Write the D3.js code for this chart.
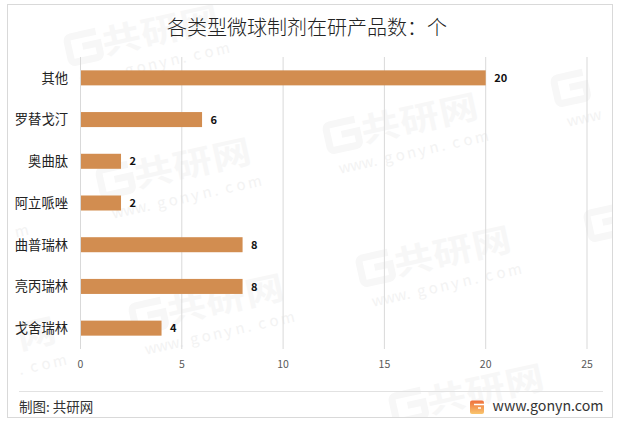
<!DOCTYPE html>
<html><head><meta charset="utf-8">
<script src="https://d3js.org/d3.v7.min.js"></script>
<style>html,body{margin:0;padding:0;background:#fff}svg{display:block}text{font-family:"Noto Sans CJK SC","Liberation Sans",sans-serif}</style>
</head><body><svg id="c" width="620" height="430"></svg>
<script>
const categories=["其他","罗替戈汀","奥曲肽","阿立哌唑","曲普瑞林","亮丙瑞林","戈舍瑞林"];
const values=[20,6,2,2,8,8,4];
const xTicks=[0,5,10,15,20,25];
const titleText="各类型微球制剂在研产品数：个";
const sourceText="制图: 共研网";
const siteText="www.gonyn.com";
const watermarkHead=["共","研","网"];
const watermarkUrl=[..."www.gonyn.com"];
const watermarkAnchors=[[68,64],[100,197],[327,152],[360,285],[555,105],[588,240],[393,423],[133,333],[-95,376],[-133,246]];

const svg=d3.select("#c");
const defs=svg.append("defs");
svg.append("rect").attr("x",7.5).attr("y",4.5).attr("width",605).attr("height",413).attr("fill","#fff").attr("stroke","#d9d9d9");
defs.append("clipPath").attr("id","fr").append("rect").attr("x",8).attr("y",5).attr("width",604).attr("height",412);
const wm=svg.append("g").attr("clip-path","url(#fr)");
const ang=-12.5, rad=ang*Math.PI/180;
const visible=(a,b,ox,oy,w)=>{
  const px=a+ox*Math.cos(rad)-oy*Math.sin(rad);
  const py=b+ox*Math.sin(rad)+oy*Math.cos(rad);
  return px>=9 && px+w<=611 && py<=414;
};
const wmColor="#f7f7f7";
watermarkAnchors.forEach(([a,b])=>{
  const g=wm.append("g").attr("transform",`translate(${a},${b}) rotate(${ang})`);
  if(a>=9){
    g.append("path").attr("d","M34 -26H8a4 4 0 0 0-4 4V-4a4 4 0 0 0 4 4H30a4 4 0 0 0 4-4V-14H18").attr("fill","none").attr("stroke",wmColor).attr("stroke-width",7);
  }
  watermarkHead.forEach((c,i)=>{
    const ox=38+i*40;
    if(!visible(a,b,ox,-1,38))return;
    g.append("text").attr("transform",`translate(${ox},-1) scale(1.18,1)`).attr("font-size",33).attr("font-weight",700).attr("fill",wmColor).text(c);
  });
  watermarkUrl.forEach((c,i)=>{
    const ox=8+i*11.6;
    if(!visible(a,b,ox,24,10))return;
    g.append("text").attr("x",ox).attr("y",24).attr("font-size",15).attr("fill","#f3f3f3").text(c);
  });
});

const x=d3.scaleLinear().domain([0,25]).range([80.5,587]);
const y=d3.scaleBand().domain(categories).range([57,349]).paddingInner(0.64).paddingOuter(0.32);

svg.append("g").selectAll("line").data(xTicks).join("line")
  .attr("x1",d=>x(d)).attr("x2",d=>x(d)).attr("y1",57).attr("y2",349).attr("stroke","#d9d9d9");

svg.append("g").selectAll("rect").data(categories).join("rect")
  .attr("x",x(0)+0.5).attr("y",d=>y(d)).attr("height",y.bandwidth())
  .attr("width",(d,i)=>x(values[i])-x(0)-0.5).attr("fill","#d28d50");

svg.append("g").selectAll("text").data(categories).join("text")
  .attr("x",68).attr("y",d=>y(d)+y.bandwidth()/2).attr("dy","0.36em").attr("text-anchor","end")
  .attr("font-size",13.3).attr("fill","#222").text(d=>d);

svg.append("g").selectAll("text").data(categories).join("text")
  .attr("x",(d,i)=>x(values[i])+8.5).attr("y",d=>y(d)+y.bandwidth()/2).attr("dy","0.38em")
  .attr("font-size",11).attr("font-weight",700).attr("font-family","'Open Sans',sans-serif").attr("fill","#111").text((d,i)=>values[i]);

svg.append("g").selectAll("text").data(xTicks).join("text")
  .attr("x",d=>x(d)).attr("y",364).attr("dy","0.36em").attr("text-anchor","middle")
  .attr("font-size",10.5).attr("font-family","'Open Sans',sans-serif").attr("fill","#595959").text(d=>d);

svg.append("text").attr("x",307).attr("y",35).attr("text-anchor","middle").attr("font-size",20).attr("font-weight",300).attr("fill","#222").text(titleText);

svg.append("line").attr("x1",19).attr("x2",603).attr("y1",391.5).attr("y2",391.5).attr("stroke","#e2e2e2");
svg.append("text").attr("x",19).attr("y",412).attr("font-size",13.5).attr("fill","#333").text(sourceText);

const grad=defs.append("linearGradient").attr("id","lg").attr("x1",0).attr("y1",0).attr("x2",0).attr("y2",1);
grad.append("stop").attr("offset",0).attr("stop-color","#ee6f3c");
grad.append("stop").attr("offset",1).attr("stop-color","#f9c56d");
svg.append("rect").attr("x",470).attr("y",400.5).attr("width",14).attr("height",13.5).attr("rx",2).attr("fill","url(#lg)");
svg.append("path").attr("d","M474 404.5H484M478 408H481").attr("fill","none").attr("stroke","#fff").attr("stroke-width",1.5);
svg.append("text").attr("x",603.5).attr("y",411).attr("text-anchor","end").attr("font-size",14.2).attr("font-family","'Open Sans',sans-serif").attr("fill","#333").text(siteText);
</script></body></html>
